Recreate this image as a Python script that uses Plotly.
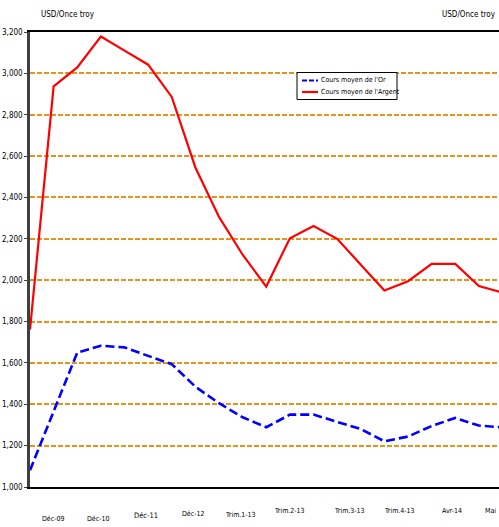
import plotly.graph_objects as go

# ---- data ----
periods = list(range(21))
gold = [1081, 1364, 1650, 1683, 1675, 1634, 1594, 1485, 1405, 1337, 1289,
        1350, 1350, 1315, 1280, 1221, 1244, 1295, 1334, 1297, 1288]
silver = [1761, 2937, 3029, 3178, 3110, 3042, 2886, 2545, 2306, 2123, 1969,
          2203, 2262, 2200, 2075, 1950, 1995, 2079, 2079, 1972, 1940]
tick_labels = ["Déc-09", "Déc-10", "Déc-11", "Déc-12", "Trim.1-13",
               "Trim.2-13", "Trim.3-13", "Trim.4-13", "Avr-14", "Mai"]
tick_positions = [0.97, 2.87, 4.92, 6.9, 8.92, 11.0, 13.54, 15.63, 17.87, 19.5]
series_names = ["Cours moyen de l'Or", "Cours moyen de l'Argent"]
unit_label = "USD/Once troy"

# ---- layout geometry ----
W, H = 499, 527
L, R, T, B = 30, 0, 32, 40
PW, PH = W - L - R, H - T - B
FONT = "DejaVu Sans Condensed, Liberation Sans Narrow, Arial Narrow, Liberation Sans"


def px(xp):
    return (xp - L) / PW


def py(yp):
    return (H - B - yp) / PH


fig = go.Figure()
fig.add_trace(go.Scatter(x=periods, y=gold, mode="lines", name=series_names[0],
                         line=dict(color="#0000FF", width=2.6, dash="9px,4px"),
                         showlegend=False))
fig.add_trace(go.Scatter(x=periods, y=silver, mode="lines", name=series_names[1],
                         line=dict(color="#FF0000", width=2.2),
                         showlegend=False))

annotations = []
label_shift = [-32, -32, -28, -27, -28, -24, -24, -24, -24, -24]
for lab, pos, sh in zip(tick_labels, tick_positions, label_shift):
    annotations.append(dict(x=pos, y=0, xref="x", yref="paper", text=lab,
                            showarrow=False, yshift=sh, xanchor="center",
                            yanchor="middle",
                            font=dict(family=FONT, size=7.5 if lab == "Déc-11" else 7,
                                      color="#000")))
annotations.append(dict(x=px(39), y=py(15), xref="paper", yref="paper", text=unit_label,
                        showarrow=False, xanchor="left", yanchor="middle",
                        font=dict(family=FONT, size=8, color="#000")))
annotations.append(dict(x=px(498), y=py(15), xref="paper", yref="paper", text=unit_label,
                        showarrow=False, xanchor="right", yanchor="middle",
                        font=dict(family=FONT, size=8, color="#000")))

# manual legend
shapes = [dict(type="rect", xref="paper", yref="paper", x0=px(297), x1=px(397),
               y0=py(99.5), y1=py(72.5), line=dict(color="#000", width=1),
               fillcolor="white", layer="above")]
legend_rows = [(80.5, "#0000FF", "5px,2px", series_names[0]),
               (92, "#FF0000", "solid", series_names[1])]
for yy, col, dash, name in legend_rows:
    shapes.append(dict(type="line", xref="paper", yref="paper", x0=px(302), x1=px(318),
                       y0=py(yy), y1=py(yy), line=dict(color=col, width=2.2, dash=dash),
                       layer="above"))
    annotations.append(dict(x=px(319), y=py(yy), xref="paper", yref="paper", text=name,
                            showarrow=False, xanchor="left", yanchor="middle",
                            font=dict(family=FONT, size=7, color="#000")))

fig.update_layout(
    width=W, height=H,
    margin=dict(l=L, r=R, t=T, b=B, pad=0),
    paper_bgcolor="white", plot_bgcolor="white",
    font=dict(family=FONT, size=8, color="#000"),
    annotations=annotations,
    shapes=shapes,
    xaxis=dict(range=[0, 19.85], showgrid=False, zeroline=False, showticklabels=False,
               ticks="", showline=True, linecolor="#000", linewidth=2, mirror=True,
               fixedrange=True),
    yaxis=dict(range=[1000, 3200], tickvals=list(range(1000, 3201, 200)),
               tickformat=",d", showgrid=True, gridcolor="#E8921C", gridwidth=1.6,
               griddash="5px,2px", zeroline=False, showline=True, linecolor="#404040",
               linewidth=2.5, ticks="outside", ticklen=3, tickcolor="#404040",
               tickfont=dict(family=FONT, size=8, color="#000"), fixedrange=True),
    showlegend=False,
)

fig.write_html("out.html", config={"displayModeBar": False},
               post_script="document.body.style.margin='0';document.body.style.overflow='hidden';")
